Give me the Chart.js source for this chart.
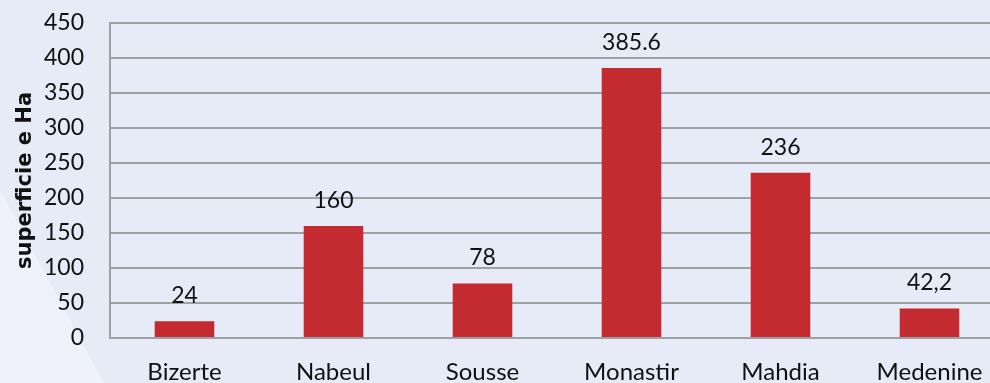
<!DOCTYPE html>
<html>
<head>
<meta charset="utf-8">
<script src="https://cdn.jsdelivr.net/npm/chart.js@4/dist/chart.umd.min.js"></script>
<style>
  html, body { margin: 0; padding: 0; overflow: hidden; }
  body { width: 990px; height: 383px; background: #e6ebf7; position: relative; }
  .shade {
    position: absolute; left: 0; top: 0; width: 990px; height: 383px;
    background: #eff2fa;
    clip-path: polygon(0 190px, 104px 383px, 0 383px);
  }
  .wrap { position: absolute; left: 0; top: 0; width: 1004px; height: 383px; }
</style>
</head>
<body>
<div class="shade"></div>
<div class="wrap"><canvas id="chartSup" width="1004" height="383"></canvas></div>
<script>
const regions = ['Bizerte', 'Nabeul', 'Sousse', 'Monastir', 'Mahdia', 'Medenine'];
const surface = [24, 160, 78, 385.6, 236, 42.2];
const surfaceText = ['24', '160', '78', '385.6', '236', '42,2'];
const yTicks = [0, 50, 100, 150, 200, 250, 300, 350, 400, 450];

(function () {
  'use strict';

  const font = 'Lato, "Open Sans", sans-serif';

  // value written above each bar
  const barValues = {
    id: 'barValues',
    afterDatasetsDraw(chart) {
      const ctx = chart.ctx;
      const meta = chart.getDatasetMeta(0);
      ctx.save();
      ctx.fillStyle = '#111111';
      ctx.font = '23px ' + font;
      ctx.textAlign = 'center';
      ctx.textBaseline = 'alphabetic';
      meta.data.forEach((bar, i) => {
        ctx.fillText(surfaceText[i], bar.x, bar.y - 18);
      });
      ctx.restore();
    },
  };

  new Chart(document.getElementById('chartSup'), {
    type: 'bar',
    data: {
      labels: regions,
      datasets: [{
        data: surface,
        backgroundColor: '#c42b30',
        borderWidth: 0,
        barPercentage: 0.4,
        categoryPercentage: 1,
      }],
    },
    options: {
      responsive: false,
      animation: false,
      layout: { padding: { top: 23, right: 0, left: 0, bottom: 0 } },
      plugins: {
        legend: { display: false },
        tooltip: { enabled: false },
      },
      scales: {
        x: {
          grid: { display: false, drawTicks: false },
          border: { display: false },
          ticks: { color: '#111111', font: { family: font, size: 24 }, padding: 20, maxRotation: 0, autoSkip: false },
          afterFit(scale) {
            scale.height = 45;
            scale.paddingLeft = 0;
            scale.paddingRight = 0;
          },
        },
        y: {
          min: 0,
          max: 450,
          afterBuildTicks(scale) { scale.ticks = yTicks.map(v => ({ value: v })); },
          grid: { color: '#9ea0a4', lineWidth: 2, drawTicks: false },
          border: { display: true, color: '#9ea0a4', width: 2 },
          ticks: { color: '#111111', font: { family: font, size: 23 }, padding: 26 },
          title: {
            display: true,
            text: 'superficie e Ha',
            color: '#111111',
            font: { family: '"DejaVu Sans", sans-serif', size: 21, weight: 'bold' },
            padding: { top: 13, bottom: 0 },
          },
          afterFit(scale) {
            scale.width = 110;
            scale.paddingTop = 0;
            scale.paddingBottom = 0;
          },
        },
      },
    },
    plugins: [barValues],
  });

})();
</script>
</body>
</html>
